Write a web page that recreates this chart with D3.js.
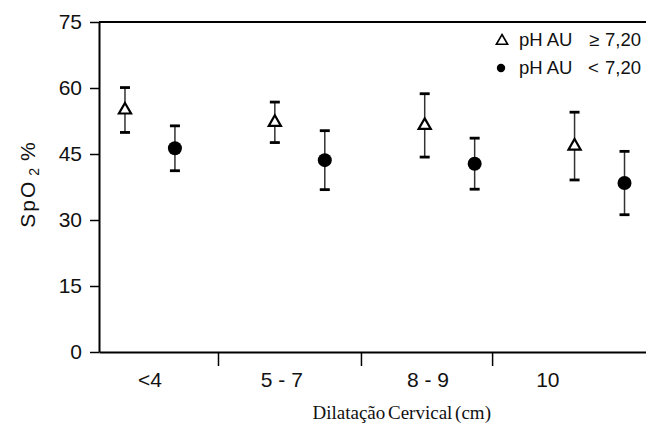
<!DOCTYPE html>
<html>
<head>
<meta charset="utf-8">
<script src="https://cdn.jsdelivr.net/npm/d3@7"></script>
<style>
  body { margin: 0; background: #fff; }
  svg { display: block; font-family: Arial, "Liberation Sans", sans-serif; }
</style>
</head>
<body>
<script>

// categories on the x axis (groups 1..4)
var categories = ['<4', '5 - 7', '8 - 9', '10']
// where the x tick labels and the break ticks sit, in group units
var labelAt = [1.0, 1.88, 2.855, 3.655]
var breaks = [1.454, 2.408, 3.283]

// pH AU >= 7,20 (open triangle): mean and sd
var highMean = [55.0, 52.2, 51.5, 46.8]
var highSd = [5.1, 4.6, 7.2, 7.7]
// pH AU < 7,20 (filled circle)
var lowMean = [46.3, 43.6, 42.8, 38.4]
var lowSd = [5.1, 6.7, 5.8, 7.2]

var yTicks = [0, 15, 30, 45, 60, 75]

var margin = {top: 22, left: 99, right: 0, bottom: 89},
	width = 646 - margin.left - margin.right,
	height = 441 - margin.top - margin.bottom

var svg = d3.select('body').append('svg').attr('width', 646).attr('height', 441)

var g = svg.append('g').attr('transform', 'translate(' + margin.left + ',' + margin.top + ')')

var x = d3.scaleLinear().domain([0.66, 4.31]).range([0, width])
var y = d3.scaleLinear().domain([0, 75]).range([height, 0])

//top frame line
g.append('line').attr('x1', 0).attr('x2', width).attr('y1', y(75)).attr('y2', y(75))
	.attr('stroke', '#000').attr('stroke-width', 2)

// y axis
var yAxis = g.append('g').call(d3.axisLeft(y).tickValues(yTicks).tickSize(9).tickSizeOuter(0).tickPadding(8))
yAxis.select('.domain').attr('stroke-width', 2)
yAxis.selectAll('.tick line').attr('stroke-width', 1.5)
yAxis.selectAll('.tick text').attr('font-size', 21).attr('font-family', 'Arial, "Liberation Sans", sans-serif').attr('fill', '#111')

// x axis, ticks only between the groups
var xAxis = g.append('g').attr('transform', 'translate(0,' + height + ')')
	.call(d3.axisBottom(x).tickValues(breaks).tickSize(14).tickSizeOuter(0).tickFormat(''))
xAxis.select('.domain').attr('stroke-width', 2)
xAxis.selectAll('.tick line').attr('stroke-width', 1.5)

g.selectAll('.xlab').data(categories).enter().append('text')
	.attr('class', 'xlab')
	.attr('x', function(d, i) { return x(labelAt[i]) })
	.attr('y', height + 35)
	.attr('text-anchor', 'middle')
	.attr('font-size', 21).attr('fill', '#111')
	.text(function(d) { return d })

// axis titles
g.append('text')
	.attr('x', x(2.68)).attr('y', height + 67)
	.attr('text-anchor', 'middle')
	.attr('font-family', '"Liberation Serif", "Times New Roman", serif')
	.attr('font-size', 19).attr('word-spacing', -2).attr('fill', '#111')
	.text('Dilatação Cervical (cm)')

var yt = svg.append('text')
	.attr('transform', 'translate(35,185) rotate(-90)')
	.attr('text-anchor', 'middle')
	.attr('font-size', 21).attr('fill', '#111')
yt.append('tspan').attr('letter-spacing', 2).text('SpO')
yt.append('tspan').attr('font-size', 14).attr('dy', 4).attr('dx', 4).text('2')
yt.append('tspan').attr('dy', -4).attr('dx', 7).text('%')

// series
var series = [
	{ name: 'high', mean: highMean, sd: highSd, off: -1/6 },
	{ name: 'low', mean: lowMean, sd: lowSd, off: 1/6 }
]

var tri = d3.symbol().type(d3.symbolTriangle).size(64)

series.forEach(function(s) {
	var pts = s.mean.map(function(m, i) { return { x: i + 1 + s.off, m: m, sd: s.sd[i] } })
	var pg = g.append('g').attr('class', s.name)

	pg.selectAll('.bar').data(pts).enter().append('line')
		.attr('x1', function(d) { return x(d.x) }).attr('x2', function(d) { return x(d.x) })
		.attr('y1', function(d) { return y(d.m + d.sd) }).attr('y2', function(d) { return y(d.m - d.sd) })
		.attr('stroke', '#333').attr('stroke-width', 1.5)

	pg.selectAll('.cap').data(pts.concat(pts.map(function(d) { return { x: d.x, m: d.m, sd: -d.sd } }))).enter().append('line')
		.attr('x1', function(d) { return x(d.x) - 5 }).attr('x2', function(d) { return x(d.x) + 5 })
		.attr('y1', function(d) { return y(d.m + d.sd) }).attr('y2', function(d) { return y(d.m + d.sd) })
		.attr('stroke', '#000').attr('stroke-width', 2.8)

	if (s.name == 'high') {
		pg.selectAll('.pt').data(pts).enter().append('path')
			.attr('d', tri)
			.attr('transform', function(d) { return 'translate(' + x(d.x) + ',' + y(d.m) + ')' })
			.attr('fill', '#fff').attr('stroke', '#000').attr('stroke-width', 2.2)
	} else {
		pg.selectAll('.pt').data(pts).enter().append('circle')
			.attr('cx', function(d) { return x(d.x) }).attr('cy', function(d) { return y(d.m) })
			.attr('r', 7).attr('fill', '#000')
	}
})

// legend
var lg = svg.append('g').attr('font-size', 18.5).attr('fill', '#111')
lg.append('path').attr('d', d3.symbol().type(d3.symbolTriangle).size(55))
	.attr('transform', 'translate(502,41)').attr('fill', '#fff').attr('stroke', '#000').attr('stroke-width', 1.6)
var l1 = lg.append('text').attr('y', 46)
l1.append('tspan').attr('x', 519).text('pH AU')
l1.append('tspan').attr('x', 589).text('≥')
l1.append('tspan').attr('x', 605).text('7,20')
lg.append('circle').attr('cx', 501).attr('cy', 68).attr('r', 4.2).attr('fill', '#000')
var l2 = lg.append('text').attr('y', 74)
l2.append('tspan').attr('x', 519).text('pH AU')
l2.append('tspan').attr('x', 588).text('<')
l2.append('tspan').attr('x', 605).text('7,20')

</script>
</body>
</html>
